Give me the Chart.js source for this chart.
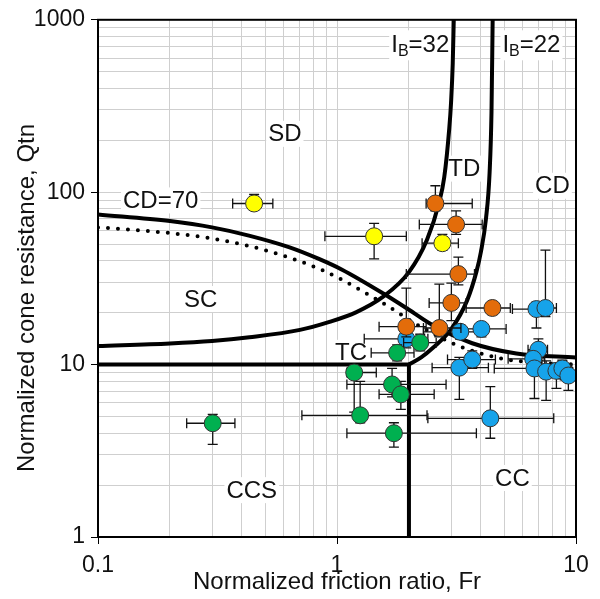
<!DOCTYPE html>
<html>
<head>
<meta charset="utf-8">
<script src="https://cdn.jsdelivr.net/npm/chart.js@4.4.1/dist/chart.umd.min.js"></script>
<style>
  html, body { margin: 0; padding: 0; background: #fff; }
  #wrap { width: 600px; height: 599px; }
</style>
</head>
<body>
<div id="wrap"><canvas id="chart" width="600" height="599"></canvas></div>
<script>
// axis ticks and titles
const xTickLabels = [0.1, 1, 10];
const yTickLabels = [1, 10, 100, 1000];
const xTitle = 'Normalized friction ratio, Fr';
const yTitle = 'Normalized cone resistance, Qtn';

// measured points: Fr, Qtn and error ranges [lo, hi]
const yellowFr = [0.45, 1.43, 2.76];
const yellowQtn = [86, 55.5, 50.6];
const yellowFrErr = [[0.366, 0.539], [0.89, 1.95], [2.27, 3.22]];
const yellowQtnErr = [[79, 97], [41, 66], [46, 57]];

const orangeFr = [2.58, 3.15, 3.22, 3.01, 4.47, 1.95, 2.68];
const orangeQtn = [86, 65, 33.5, 22.8, 21.3, 16.6, 16.3];
const orangeFrErr = [[2.36, 3.68], [2.21, 4.05], [1.95, 3.76], [2.43, 3.47], [3.47, 5.31], [1.5, 2.36], [2.3, 3.3]];
const orangeQtnErr = [[78, 109], [57, 78], [29, 42], [18, 29.7], [19.5, 23], [14.5, 27.8], [14.5, 29.3]];

const greenFr = [1.785, 2.23, 1.18, 1.70, 1.85, 1.25, 1.73, 0.302];
const greenQtn = [11.7, 13.4, 9.0, 7.67, 6.72, 5.08, 4.0, 4.57];
const greenFrErr = [[1.39, 2.1], [1.9, 2.6], [1.1, 1.46], [1.1, 2.86], [1.5, 2.55], [0.713, 2.38], [1.1, 3.83], [0.235, 0.374]];
const greenQtnErr = [[10.5, 13], [12, 15], [5.3, 10], [6.5, 9.5], [5.5, 8], [4.6, 8.0], [3.32, 4.6], [3.45, 5.15]];

const blueFr = [1.95, 3.28, 4.02, 3.25, 3.68, 4.38, 6.83, 7.45, 6.96, 6.62, 6.7, 7.5, 8.28, 8.77, 9.29];
const blueQtn = [14.1, 15.5, 16.1, 9.6, 10.7, 4.88, 21.0, 21.3, 12.2, 10.8, 9.5, 9.1, 9.2, 9.5, 8.64];
const blueFrErr = [[1.3, 2.4], [2.3, 4.0], [3.4, 5.1], [2.5, 4.3], [2.9, 4.6], [2.4, 8.07], [5.42, 7.2], [6.8, 8.28],
  [6.3, 7.6], [5.2, 7.4], [4.55, 7.3], [6.9, 8.2], [7.5, 9.0], [8.0, 9.6], [8.6, 9.9]];
const blueQtnErr = [[12.5, 15.5], [14, 17], [14.5, 17.5], [6.28, 11], [9.5, 12], [3.74, 7.46], [16.3, 23], [19, 46.1],
  [10.5, 14.1], [9.5, 12], [6.36, 11], [6.2, 10.5], [7.27, 10.2], [8.3, 10.6], [7.08, 9.6]];

// classification boundaries
const cd70Fr = [0.1, 0.2, 0.3, 0.428, 0.629, 0.84, 1.05, 1.55, 2.0, 2.5, 3.68, 5.63, 10];
const cd70Qtn = [74.3, 68, 62.5, 56, 48, 41, 35.5, 26, 20.8, 17, 13.3, 11.6, 11.0];
const cdDotFr = [0.1, 0.134, 0.198, 0.29, 0.428, 0.629, 0.84, 1.05, 1.55, 2.27, 3.25, 4.78, 6.57, 10];
const cdDotQtn = [62.5, 60.8, 58, 54.3, 48.8, 41.8, 36, 31, 22.8, 16.4, 12.8, 10.9, 10.3, 10.0];
const ib32Fr = [0.1, 0.2, 0.3, 0.43, 0.7, 0.93, 1.2, 1.55, 2.0, 2.38, 2.68, 2.81, 2.95, 3.0, 3.05, 3.08];
const ib32Qtn = [12.8, 13.25, 13.7, 14.4, 15.9, 17.7, 20.1, 24.6, 34.4, 53, 88, 122, 235, 330, 560, 1000];
const ib22Fr = [2.0, 2.25, 2.5, 3.0, 3.5, 3.83, 4.0, 4.2, 4.35, 4.43, 4.48];
const ib22Qtn = [10.0, 11.0, 12.4, 16.0, 23.5, 34.5, 45, 70, 130, 290, 1000];
const qtn10Fr = [0.1, 2];
const qtn10Qtn = [10, 10];
const fr2Fr = [2, 2];
const fr2Qtn = [1, 10];

// zone labels
const zoneText = ['SD', 'TD', 'CD', 'CD=70', 'SC', 'TC', 'CCS', 'CC'];
const zoneFr = [0.605, 3.41, 7.97, 0.183, 0.269, 1.145, 0.44, 5.42];
const zoneQtn = [218, 137, 109, 89.6, 24.0, 11.7, 1.87, 2.2];
const ibText = ['32', '22'];
const ibFr = [2.23, 6.51];
const ibQtn = [721, 721];

const FONT = '"Liberation Sans", Arial, sans-serif';

function pts(xs, ys) {
  return xs.map((x, i) => ({x: x, y: ys[i]}));
}

function gridValues(majors) {
  let res = [];
  for (let i = 0; i < majors.length - 1; i++) {
    for (let m = 1; m < 10; m++) res.push(majors[i] * m);
  }
  res.push(majors[majors.length - 1]);
  return res;
}

function marker(label, xs, ys, color, fx, fy, order) {
  return {
    type: 'scatter', label: label, data: pts(xs, ys),
    backgroundColor: color, borderColor: '#333', borderWidth: 1,
    pointRadius: 8.5, pointHoverRadius: 8.5, order: order,
    frErr: fx, qErr: fy
  };
}

function curve(label, xs, ys, dash) {
  return {
    type: 'line', label: label, data: pts(xs, ys),
    borderColor: '#000', borderWidth: 4, pointRadius: 0,
    cubicInterpolationMode: 'monotone', fill: false,
    borderDash: dash || [], borderCapStyle: dash ? 'round' : 'butt',
    order: 5
  };
}

const errorBars = {
  id: 'errorBars',
  beforeDatasetDraw(chart, args) {
    const ds = chart.data.datasets[args.index];
    if (!ds.frErr) return;
    const xs = chart.scales.x, ys = chart.scales.y, ctx = chart.ctx;
    const cap = 5;
    ctx.save();
    ctx.strokeStyle = '#111';
    ctx.lineWidth = 1.3;
    ds.data.forEach((p, i) => {
      const px = xs.getPixelForValue(p.x), py = ys.getPixelForValue(p.y);
      const x0 = xs.getPixelForValue(ds.frErr[i][0]), x1 = xs.getPixelForValue(ds.frErr[i][1]);
      const y0 = ys.getPixelForValue(ds.qErr[i][0]), y1 = ys.getPixelForValue(ds.qErr[i][1]);
      ctx.beginPath();
      ctx.moveTo(x0, py); ctx.lineTo(x1, py);
      ctx.moveTo(x0, py - cap); ctx.lineTo(x0, py + cap);
      ctx.moveTo(x1, py - cap); ctx.lineTo(x1, py + cap);
      ctx.moveTo(px, y0); ctx.lineTo(px, y1);
      ctx.moveTo(px - cap, y0); ctx.lineTo(px + cap, y0);
      ctx.moveTo(px - cap, y1); ctx.lineTo(px + cap, y1);
      ctx.stroke();
    });
    ctx.restore();
  }
};

const zoneLabels = {
  id: 'zoneLabels',
  beforeDatasetsDraw(chart) {
    const xs = chart.scales.x, ys = chart.scales.y, ctx = chart.ctx;
    ctx.save();
    ctx.textBaseline = 'middle';
    ctx.textAlign = 'left';
    zoneText.forEach((t, i) => {
      const cx = xs.getPixelForValue(zoneFr[i]), cy = ys.getPixelForValue(zoneQtn[i]);
      ctx.font = '24px ' + FONT;
      const w = ctx.measureText(t).width;
      ctx.fillStyle = '#fff';
      ctx.fillRect(cx - w / 2 - 2, cy - 13, w + 4, 26);
      ctx.fillStyle = '#111';
      ctx.fillText(t, cx - w / 2, cy + 1);
    });
    ibText.forEach((t, i) => {
      const cx = xs.getPixelForValue(ibFr[i]), cy = ys.getPixelForValue(ibQtn[i]);
      ctx.font = '24px ' + FONT;
      const wI = ctx.measureText('I').width;
      const wV = ctx.measureText('=' + t).width;
      ctx.font = '16px ' + FONT;
      const wB = ctx.measureText('B').width;
      let x = cx - (wI + wB + wV) / 2;
      ctx.fillStyle = '#fff';
      ctx.fillRect(x - 2, cy - 14, wI + wB + wV + 4, 30);
      ctx.fillStyle = '#111';
      ctx.font = '24px ' + FONT;
      ctx.fillText('I', x, cy + 1);
      ctx.font = '16px ' + FONT;
      ctx.fillText('B', x + wI, cy + 7);
      ctx.font = '24px ' + FONT;
      ctx.fillText('=' + t, x + wI + wB, cy + 1);
    });
    ctx.restore();
  },
  afterDraw(chart) {
    const a = chart.chartArea, ctx = chart.ctx;
    ctx.save();
    ctx.strokeStyle = '#000';
    ctx.lineWidth = 2;
    ctx.strokeRect(a.left, a.top, a.right - a.left, a.bottom - a.top);
    // axis titles
    ctx.fillStyle = '#111';
    ctx.font = '24px ' + FONT;
    ctx.textAlign = 'center';
    ctx.textBaseline = 'middle';
    ctx.fillText(xTitle, (a.left + a.right) / 2, 582);
    ctx.translate(27, 298);
    ctx.rotate(-Math.PI / 2);
    ctx.fillText(yTitle, 0, 0);
    ctx.restore();
  }
};

const ctx = document.getElementById('chart').getContext('2d');
new Chart(ctx, {
  data: {
    datasets: [
      marker('Yellow', yellowFr, yellowQtn, '#ffff00', yellowFrErr, yellowQtnErr, 0),
      marker('Orange', orangeFr, orangeQtn, '#e36c0a', orangeFrErr, orangeQtnErr, 0),
      marker('Green', greenFr, greenQtn, '#00b050', greenFrErr, greenQtnErr, 0),
      marker('Blue', blueFr, blueQtn, '#16a3ea', blueFrErr, blueQtnErr, 1),
      curve('CD=70', cd70Fr, cd70Qtn),
      curve('CD dotted', cdDotFr, cdDotQtn, [0, 10]),
      curve('IB=32', ib32Fr, ib32Qtn),
      curve('IB=22', ib22Fr, ib22Qtn),
      curve('Qtn=10', qtn10Fr, qtn10Qtn),
      curve('Fr=2', fr2Fr, fr2Qtn)
    ]
  },
  options: {
    responsive: false,
    animation: false,
    layout: { padding: { top: 17, right: 24, left: 0, bottom: 0 } },
    plugins: { legend: { display: false }, tooltip: { enabled: false } },
    scales: {
      x: {
        type: 'logarithmic', position: 'bottom', min: 0.1, max: 10,
        afterBuildTicks: (s) => { s.ticks = gridValues(xTickLabels).map(v => ({value: v})); },
        afterFit: (s) => { s.height = 62; },
        grid: {
          color: '#cfcfcf', lineWidth: 1, tickLength: 7,
          tickColor: (c) => xTickLabels.includes(c.tick && c.tick.value) ? '#000' : 'rgba(0,0,0,0)'
        },
        border: { color: '#000', width: 2 },
        ticks: {
          autoSkip: false, maxRotation: 0, padding: 8, color: '#111',
          font: { family: FONT, size: 23 },
          callback: (v) => xTickLabels.includes(v) ? String(v) : ''
        }
      },
      y: {
        type: 'logarithmic', position: 'left', min: 1, max: 1000,
        afterBuildTicks: (s) => { s.ticks = gridValues(yTickLabels).map(v => ({value: v})); },
        afterFit: (s) => { s.width = 98; },
        grid: {
          color: '#cfcfcf', lineWidth: 1, tickLength: 7,
          tickColor: (c) => yTickLabels.includes(c.tick && c.tick.value) ? '#000' : 'rgba(0,0,0,0)'
        },
        border: { color: '#000', width: 2 },
        ticks: {
          autoSkip: false, padding: 6, color: '#111',
          font: { family: FONT, size: 23 },
          callback: (v) => yTickLabels.includes(v) ? String(v) : ''
        }
      }
    }
  },
  plugins: [errorBars, zoneLabels]
});
</script>
</body>
</html>
